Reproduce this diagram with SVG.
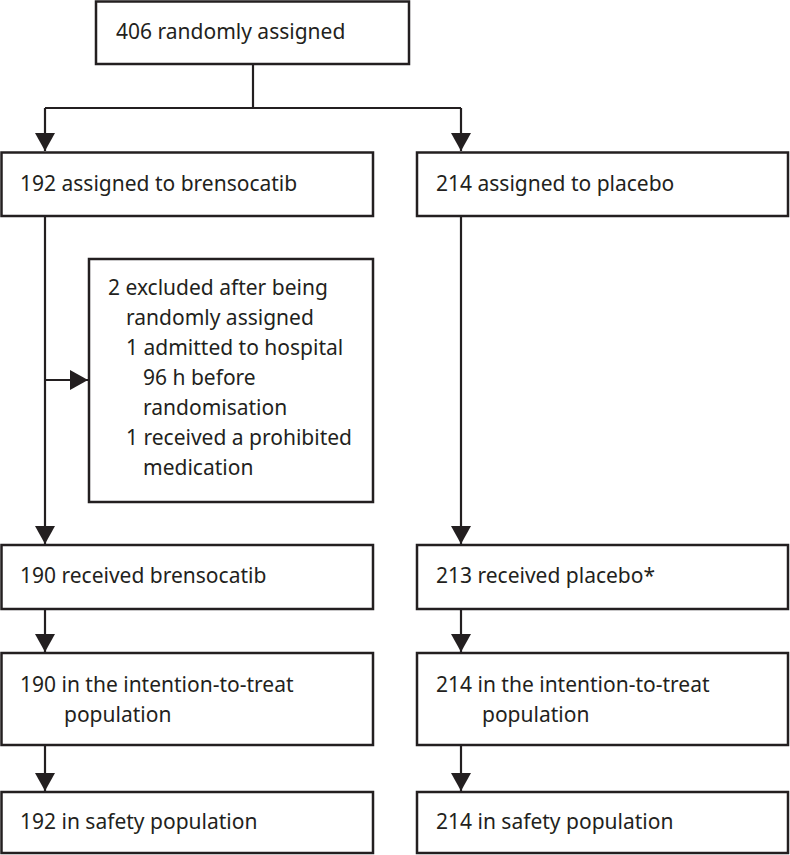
<svg xmlns="http://www.w3.org/2000/svg" width="790" height="855" viewBox="0 0 790 855">
<style>
  .box { fill: #ffffff; stroke: #231f20; stroke-width: 2.5; }
  .lbl { font-family: "Noto Sans", "Liberation Sans", sans-serif; font-size: 21px; fill: #231f20; }
  .conn { fill: none; stroke: #231f20; stroke-width: 2.2; }
</style>
<defs>
  <marker id="arrow" viewBox="0 0 18 20" refX="18" refY="10" markerWidth="18" markerHeight="20" markerUnits="userSpaceOnUse" orient="auto">
    <path d="M0,0 L18,10 L0,20 Z" fill="#231f20"/>
  </marker>
</defs>
<rect width="790" height="855" fill="#ffffff"/>

<g id="connectors">
  <path class="conn" d="M253,64 V108"/>
  <path class="conn" d="M45,108 H461"/>
  <path class="conn" d="M45,108 V151" marker-end="url(#arrow)"/>
  <path class="conn" d="M461,108 V151" marker-end="url(#arrow)"/>
  <path class="conn" d="M45,216 V544" marker-end="url(#arrow)"/>
  <path class="conn" d="M45,380 H88" marker-end="url(#arrow)"/>
  <path class="conn" d="M461,216 V544" marker-end="url(#arrow)"/>
  <path class="conn" d="M45,609 V652" marker-end="url(#arrow)"/>
  <path class="conn" d="M461,609 V652" marker-end="url(#arrow)"/>
  <path class="conn" d="M45,745 V791" marker-end="url(#arrow)"/>
  <path class="conn" d="M461,745 V791" marker-end="url(#arrow)"/>
</g>

<g id="randomised">
  <rect class="box" x="96" y="1.5" width="313" height="62.5"/>
  <text class="lbl" x="116" y="39">406 randomly assigned</text>
</g>

<g id="assigned-brensocatib">
  <rect class="box" x="1.5" y="152.5" width="371.5" height="63.5"/>
  <text class="lbl" x="20" y="191">192 assigned to brensocatib</text>
</g>

<g id="assigned-placebo">
  <rect class="box" x="417" y="152.5" width="371" height="63.5"/>
  <text class="lbl" x="436" y="191">214 assigned to placebo</text>
</g>

<g id="excluded">
  <rect class="box" x="89" y="259" width="284" height="243"/>
  <text class="lbl" x="108" y="295">2 excluded after being</text>
  <text class="lbl" x="126" y="325">randomly assigned</text>
  <text class="lbl" x="126" y="355">1 admitted to hospital</text>
  <text class="lbl" x="143" y="385">96 h before</text>
  <text class="lbl" x="143" y="415">randomisation</text>
  <text class="lbl" x="126" y="445">1 received a prohibited</text>
  <text class="lbl" x="143" y="475">medication</text>
</g>

<g id="received-brensocatib">
  <rect class="box" x="1.5" y="545" width="371.5" height="64"/>
  <text class="lbl" x="20" y="583">190 received brensocatib</text>
</g>

<g id="received-placebo">
  <rect class="box" x="417" y="545" width="371" height="64"/>
  <text class="lbl" x="436" y="583">213 received placebo*</text>
</g>

<g id="itt-brensocatib">
  <rect class="box" x="1.5" y="653" width="371.5" height="92"/>
  <text class="lbl" x="20" y="692">190 in the intention-to-treat</text>
  <text class="lbl" x="64" y="722">population</text>
</g>

<g id="itt-placebo">
  <rect class="box" x="417" y="653" width="371" height="92"/>
  <text class="lbl" x="436" y="692">214 in the intention-to-treat</text>
  <text class="lbl" x="482" y="722">population</text>
</g>

<g id="safety-brensocatib">
  <rect class="box" x="1.5" y="792" width="371.5" height="61"/>
  <text class="lbl" x="20" y="829">192 in safety population</text>
</g>

<g id="safety-placebo">
  <rect class="box" x="417" y="792" width="371" height="61"/>
  <text class="lbl" x="436" y="829">214 in safety population</text>
</g>
</svg>
